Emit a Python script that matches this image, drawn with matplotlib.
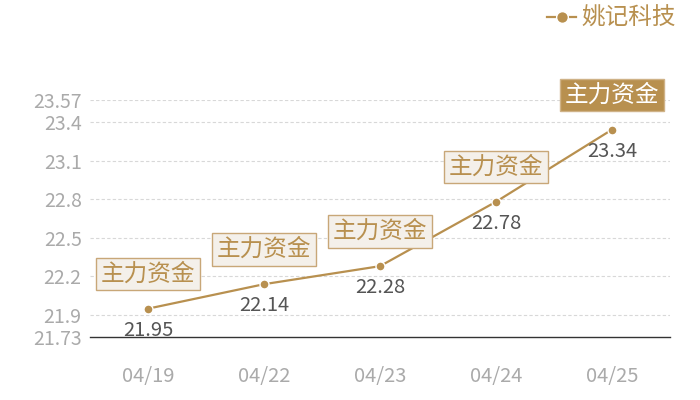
import matplotlib
matplotlib.use("Agg")
import matplotlib.pyplot as plt

plt.rcParams['font.family'] = ['Noto Sans CJK SC', 'DejaVu Sans']

# data
dates = ["04/19", "04/22", "04/23", "04/24", "04/25"]
prices = [21.95, 22.14, 22.28, 22.78, 23.34]
yticks = [21.73, 21.9, 22.2, 22.5, 22.8, 23.1, 23.4, 23.57]
ytick_labels = ["21.73", "21.9", "22.2", "22.5", "22.8", "23.1", "23.4", "23.57"]
series_name = "姚记科技"
tag = "主力资金"

gold = "#b8904f"
grey = "#aaaaaa"

fig = plt.figure(figsize=(7, 4), dpi=100)
ax = fig.add_axes([90 / 700, 63 / 400, 580 / 700, 237 / 400])

x = list(range(len(dates)))
ax.plot(x, prices, color=gold, lw=1.6, marker="o", ms=6.5,
        mfc=gold, mec="white", mew=1.0, label=series_name, zorder=3)

ax.set_xlim(-0.5, len(dates) - 0.5)
ax.set_ylim(yticks[0], yticks[-1])
ax.set_xticks(x)
ax.set_xticklabels(dates, fontweight="light")
ax.set_yticks(yticks)
ax.set_yticklabels(ytick_labels, fontweight="light")
ax.tick_params(axis="x", length=0, pad=21, colors=grey, labelsize=14.5)
ax.tick_params(axis="y", length=0, pad=6, colors=grey, labelsize=14)

for yv in yticks[1:]:
    ax.axhline(yv, color="#d8d8d8", lw=0.8, ls=(0, (3, 2)), zorder=1)

for s in ["top", "right", "left"]:
    ax.spines[s].set_visible(False)
ax.spines["bottom"].set_color("#333333")
ax.spines["bottom"].set_linewidth(1.0)

for i, v in enumerate(prices):
    ax.annotate(f"{v:.2f}", (i, v), xytext=(0, -15.5), textcoords="offset points",
                ha="center", va="center", color="#555555", fontsize=14.5,
                fontweight="light", zorder=4)
    last = i == len(prices) - 1
    ax.annotate(tag, (i, v), xytext=(0, 25), textcoords="offset points",
                ha="center", va="center", fontsize=17, fontweight="light",
                color="white" if last else gold,
                bbox=dict(boxstyle="square,pad=0.2",
                          fc=gold if last else "#f4f0ea",
                          ec="#cfb287" if last else "#c8a778", lw=1.0),
                zorder=5)

leg = ax.legend(loc="upper right", bbox_to_anchor=(688 / 700, 1.012), bbox_transform=fig.transFigure,
                frameon=False, handlelength=1.2, handletextpad=0.25,
                borderpad=0.0, prop={"weight": "light", "size": 17}, markerscale=1.3)
for t in leg.get_texts():
    t.set_color(gold)

fig.savefig("out.png", dpi=100)
